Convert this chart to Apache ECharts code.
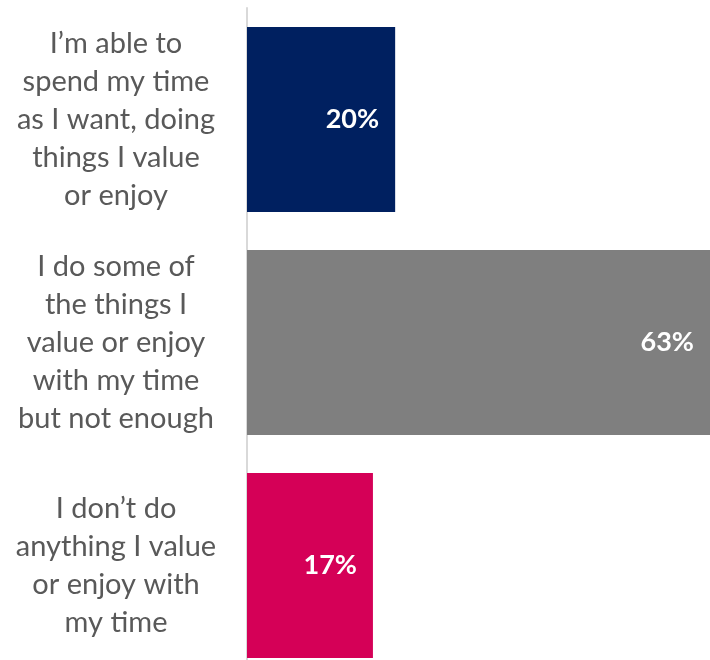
<!DOCTYPE html>
<html>
<head>
<meta charset="utf-8">
<style>
  html, body { margin: 0; padding: 0; background: #ffffff; overflow: hidden; }
  /* the plot runs slightly past the bottom edge of the window */
  #chart { width: 710px; height: 680px; }
</style>
<script src="https://cdn.jsdelivr.net/npm/echarts@6/dist/echarts.min.js"></script>
</head>
<body>
<div id="chart"></div>
<script>
// Survey answers, top to bottom
const categories = [
  "I\u2019m able to\nspend my time\nas I want, doing\nthings I value\nor enjoy",
  "I do some of\nthe things I\nvalue or enjoy\nwith my time\nbut not enough",
  "I don\u2019t do\nanything I value\nor enjoy with\nmy time"
];
const shares = [20, 63, 17];
const barColors = ["#002060", "#7f7f7f", "#d50057"];

const chart = echarts.init(document.getElementById("chart"));
chart.setOption({
  animation: false,
  grid: { left: 247, right: 0, top: 8, bottom: 3, containLabel: false },
  xAxis: {
    type: "value",
    min: 0,
    max: 62.5,
    show: false
  },
  yAxis: {
    type: "category",
    inverse: true,
    data: categories,
    axisLine: { show: true, lineStyle: { color: "#d9d9d9", width: 2 } },
    axisTick: { show: false },
    axisLabel: {
      align: "center",
      margin: 131,
      color: "#595959",
      fontFamily: "Lato",
      fontSize: 29,
      lineHeight: 38
    }
  },
  series: [{
    type: "bar",
    barCategoryGap: "17%",
    data: shares.map((v, i) => ({ value: v, itemStyle: { color: barColors[i] } })),
    label: {
      show: true,
      position: "insideRight",
      distance: 16,
      formatter: "{c}%",
      color: "#ffffff",
      fontFamily: "Lato",
      fontWeight: "bold",
      fontSize: 27
    }
  }]
});
</script>
</body>
</html>
